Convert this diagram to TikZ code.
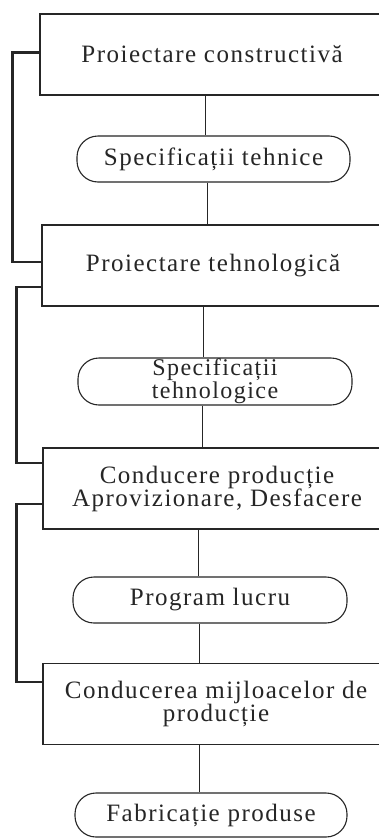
\documentclass[tikz,border=0pt]{standalone}
\usepackage{fontspec}
\setmainfont{Liberation Serif}[LetterSpace=6]
\definecolor{ink}{HTML}{262626}

\begin{document}
\begin{tikzpicture}[x=1pt,y=-1pt,
  stage/.style={draw=ink, text=ink, line width=1.1pt, minimum height=81pt,
    inner sep=0pt, align=center, font=\fontsize{25}{23}\selectfont},
  doc/.style={draw=ink, text=ink, line width=1.1pt, rounded corners=21pt,
    minimum width=273pt, minimum height=46pt, inner sep=0pt, align=center,
    font=\fontsize{25}{23}\selectfont},
  link/.style={draw=ink, line width=0.9pt},
  loop/.style={draw=ink, line width=2.4pt, line join=miter}
]
\useasboundingbox (0,0) rectangle (378,838);
\fill[white] (0,0) rectangle (378,838);

% process stages (their right edges run off the page)
\node[stage, minimum width=344pt] (b1) at (212,54.5) {Proiectare constructivă};
\node[stage, minimum width=342pt] (b2) at (213,265.5) {Proiectare tehnologică};
\node[stage, minimum width=348pt] (b3) at (217,488.5)
  {Conducere producție\\Aprovizionare, Desfacere};
\node[stage, minimum width=346pt, font=\fontsize{25}{20}\selectfont] (b4) at (216,704)
  {Conducerea mijloacelor de\\producție};

% documents passed between stages
\node[doc] (p1) at (213.5,159) {Specificații tehnice};
\node[doc, minimum width=274pt, minimum height=47pt,
  font=\fontsize{24}{17}\selectfont] (p2) at (215,381.5) {Specificații\\tehnologice};
\node[doc, minimum width=274pt] (p3) at (210,600) {Program lucru};
\node[doc, minimum width=272pt, minimum height=44pt] (p4) at (211,815) {Fabricație produse};

% main chain
\draw[link] ([xshift=-7pt]b1.south) -- ([xshift=-7pt]b1.south |- p1.north);
\draw[link] ([xshift=-6.5pt]p1.south) -- ([xshift=-6.5pt]p1.south |- b2.north);
\draw[link] ([xshift=-10pt]b2.south) -- ([xshift=-10pt]b2.south |- p2.north);
\draw[link] ([xshift=-13pt]p2.south) -- ([xshift=-13pt]p2.south |- b3.north);
\draw[link] ([xshift=-19pt]b3.south) -- ([xshift=-19pt]b3.south |- p3.north);
\draw[link] ([xshift=-11pt]p3.south) -- ([xshift=-11pt]p3.south |- b4.north);
\draw[link] ([xshift=-17pt]b4.south) -- ([xshift=-17pt]b4.south |- p4.north);

% feedback links between consecutive stages
\draw[loop] ([yshift=2pt]b1.west) -- ++(-27,0) |- ([yshift=3.5pt]b2.west);
\draw[loop] ([yshift=-21.5pt]b2.west) -- ++(-25,0) |- ([yshift=25.5pt]b3.west);
\draw[loop] ([yshift=-15.5pt]b3.west) -- ++(-26,0) |- ([yshift=22pt]b4.west);
\end{tikzpicture}
\end{document}
